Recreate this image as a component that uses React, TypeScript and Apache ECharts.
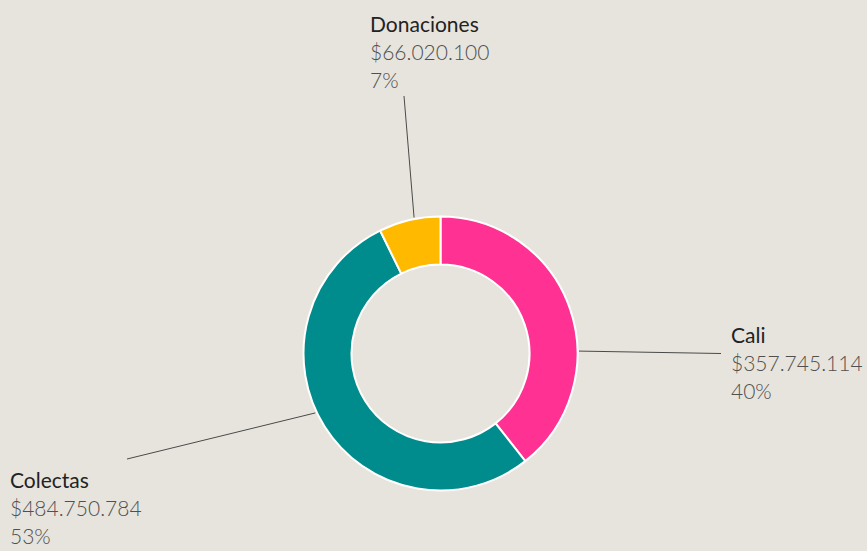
import React, { useEffect, useRef } from 'react';
import * as echarts from 'echarts';

const categories = ['Cali', 'Colectas', 'Donaciones'];
const values = [357745114, 484750784, 66020100];
const percentLabels = ['40%', '53%', '7%'];
const colors = ['#ff3193', '#008c8c', '#ffba00'];

const fmt = (v: number) => '$' + String(v).replace(/\B(?=(\d{3})+(?!\d))/g, '.');

const CENTER: [number, number] = [440.5, 353.5];
const RADIUS: [number, number] = [89, 137];

// label placement: top-left of text block, line anchor angle on ring (deg clockwise from top), line end offset from label
const labelPos: Record<string, { x: number; y: number; angle: number; ex: number; ey: number }> = {
  Cali: { x: 731, y: 320, angle: 89, ex: -10, ey: 33.5 },
  Colectas: { x: 10, y: 465, angle: 244.6, ex: 117, ey: -6 },
  Donaciones: { x: 370, y: 9, angle: 349, ex: 34, ey: 87 },
};

export default function App() {
  const ref = useRef<HTMLDivElement>(null);
  useEffect(() => {
    if (!ref.current) return;
    const chart = echarts.init(ref.current, undefined, { renderer: 'svg' });
    chart.setOption({
      animation: false,
      backgroundColor: '#e7e4dd',
      series: [
        {
          type: 'pie',
          center: CENTER,
          radius: RADIUS,
          startAngle: 90,
          clockwise: true,
          silent: true,
          data: categories.map((c, i) => ({
            name: c,
            value: values[i],
            itemStyle: { color: colors[i] },
          })),
          itemStyle: { borderColor: '#ffffff', borderWidth: 2 },
          label: {
            show: true,
            position: 'outside',
            formatter: (p: any) =>
              `{n|${p.name}}\n{v|${fmt(p.value)}}\n{v|${percentLabels[p.dataIndex]}}`,
            rich: {
              n: { fontFamily: 'Lato', fontSize: 21, color: '#222222', lineHeight: 28 },
              v: { fontFamily: 'Lato', fontSize: 21, fontWeight: 300, color: '#505050', lineHeight: 28 },
            },
          },
          labelLine: {
            show: true,
            length: 20,
            length2: 0,
            lineStyle: { color: '#4a4a4a', width: 1 },
          },
          labelLayout: (params: any) => {
            const pos = labelPos[categories[params.dataIndex]];
            const a = (pos.angle * Math.PI) / 180;
            const r = RADIUS[1] + 1.5;
            const start = [CENTER[0] + r * Math.sin(a), CENTER[1] - r * Math.cos(a)];
            const end = [pos.x + pos.ex, pos.y + pos.ey];
            return {
              x: pos.x,
              y: pos.y,
              align: 'left',
              verticalAlign: 'top',
              labelLinePoints: [start, end, end],
            };
          },
        },
      ],
    });
    return () => chart.dispose();
  }, []);
  return (
    <div
      ref={ref}
      style={{ position: 'fixed', left: 0, top: 0, width: 867, height: 551 }}
    />
  );
}
